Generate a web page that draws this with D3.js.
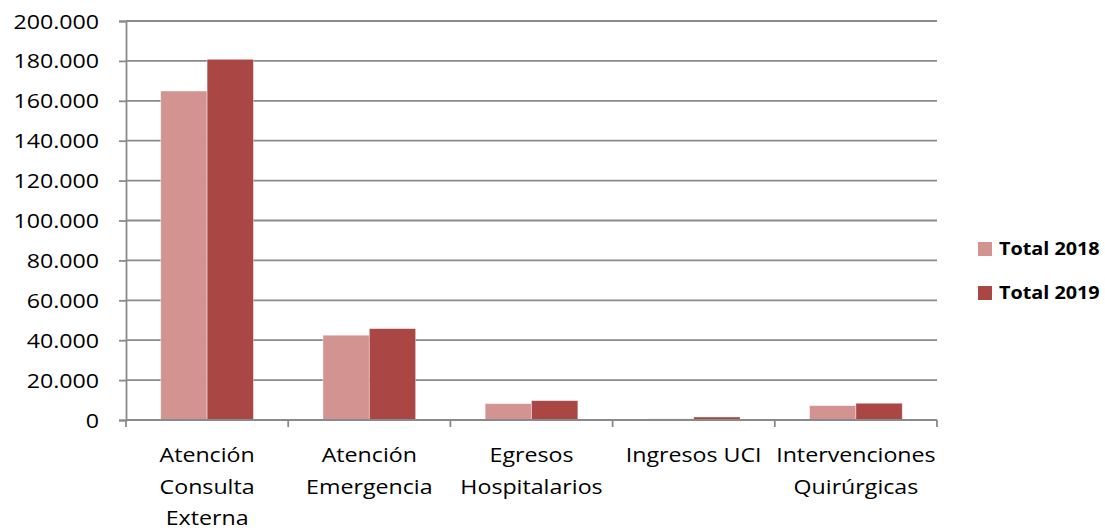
<!DOCTYPE html>
<html>
<head>
<meta charset="utf-8">
<script src="https://cdn.jsdelivr.net/npm/d3@7"></script>
<style>
  html, body { margin: 0; padding: 0; background: #fff; }
  svg { display: block; }
  text { font-family: "Open Sans", sans-serif; fill: #000; }
</style>
</head>
<body>
<svg id="chart" width="1105" height="530"></svg>
<script>
const categories = [
  ["Atención", "Consulta", "Externa"],
  ["Atención", "Emergencia"],
  ["Egresos", "Hospitalarios"],
  ["Ingresos UCI"],
  ["Intervenciones", "Quirúrgicas"]
];
const categoryKeys = ["Atención Consulta Externa", "Atención Emergencia", "Egresos Hospitalarios", "Ingresos UCI", "Intervenciones Quirúrgicas"];
const seriesNames = ["Total 2018", "Total 2019"];
const total2018 = [164900, 42500, 8200, 600, 7200];
const total2019 = [180800, 45800, 9700, 1500, 8400];
const seriesColors = ["#D39391", "#AA4644"];
const yTicks = [0, 20000, 40000, 60000, 80000, 100000, 120000, 140000, 160000, 180000, 200000];
const yTickLabels = ["0", "20.000", "40.000", "60.000", "80.000", "100.000", "120.000", "140.000", "160.000", "180.000", "200.000"];

const svg = d3.select("#chart");
const pLeft = 126, pRight = 937, pTop = 21, pBottom = 420;
const SX = 1.16; // horizontal text stretch

const x = d3.scaleBand().domain(categoryKeys).range([pLeft, pRight]).padding(0);
const y = d3.scaleLinear().domain([0, 200000]).range([pBottom, pTop]);
const gapRatio = 1.5;
const barW = x.bandwidth() / (2 + gapRatio);
const inner = d3.scaleBand().domain(seriesNames).range([0, barW * 2]).padding(0);

const gridColor = "#8a8a8a";

// gridlines
svg.append("g").selectAll("line").data(yTicks.filter(d => d > 0)).join("line")
  .attr("x1", pLeft).attr("x2", pRight)
  .attr("y1", d => y(d)).attr("y2", d => y(d))
  .attr("stroke", gridColor).attr("stroke-width", 1.8);

// bars
const series = [total2018, total2019];
series.forEach((vals, si) => {
  svg.append("g").selectAll("rect").data(vals).join("rect")
    .attr("x", (d, i) => x(categoryKeys[i]) + (x.bandwidth() - barW * 2) / 2 + inner(seriesNames[si]))
    .attr("y", d => y(d))
    .attr("width", inner.bandwidth())
    .attr("height", d => y(0) - y(d))
    .attr("fill", seriesColors[si])
    .attr("stroke", "rgba(255,255,255,0.5)")
    .attr("stroke-width", 0.8);
});

// y axis
const yAxis = d3.axisLeft(y).tickValues(yTicks).tickSize(7).tickFormat((d, i) => yTickLabels[i]);
const ya = svg.append("g").attr("transform", `translate(${pLeft},0)`).call(yAxis);
ya.select(".domain").attr("stroke", gridColor).attr("stroke-width", 1.8);
ya.selectAll(".tick line").attr("stroke", gridColor).attr("stroke-width", 1.8);
ya.selectAll(".tick text").remove();
ya.selectAll(".tick").each(function(d, i) {
  d3.select(this).append("text")
    .attr("transform", `translate(-27,0) scale(${SX},1)`)
    .attr("text-anchor", "end")
    .attr("dy", "0.35em")
    .attr("font-size", 20)
    .text(yTickLabels[i]);
});

// x axis
const xa = svg.append("g").attr("transform", `translate(0,${pBottom})`);
xa.append("line").attr("x1", pLeft).attr("x2", pRight).attr("y1", 0).attr("y2", 0)
  .attr("stroke", gridColor).attr("stroke-width", 1.8);
const boundaries = categoryKeys.map(c => x(c)).concat([pRight]);
xa.selectAll("line.tk").data(boundaries).join("line").attr("class", "tk")
  .attr("x1", d => d).attr("x2", d => d).attr("y1", 0).attr("y2", 7)
  .attr("stroke", gridColor).attr("stroke-width", 1.8);

categories.forEach((lines, i) => {
  const cx = x(categoryKeys[i]) + x.bandwidth() / 2;
  lines.forEach((ln, j) => {
    svg.append("text")
      .attr("transform", `translate(${cx},${462 + j * 31.5}) scale(${SX},1)`)
      .attr("text-anchor", "middle")
      .attr("font-size", 20)
      .text(ln);
  });
});

// legend
const legendY = [249, 293];
seriesNames.forEach((s, i) => {
  svg.append("rect").attr("x", 978).attr("y", legendY[i] - 7).attr("width", 14).attr("height", 14)
    .attr("fill", seriesColors[i]);
  svg.append("text")
    .attr("transform", `translate(999,${legendY[i]}) scale(1.1,1)`)
    .attr("dy", "0.36em")
    .attr("font-size", 18)
    .attr("font-weight", "bold")
    .text(s);
});
</script>
</body>
</html>
